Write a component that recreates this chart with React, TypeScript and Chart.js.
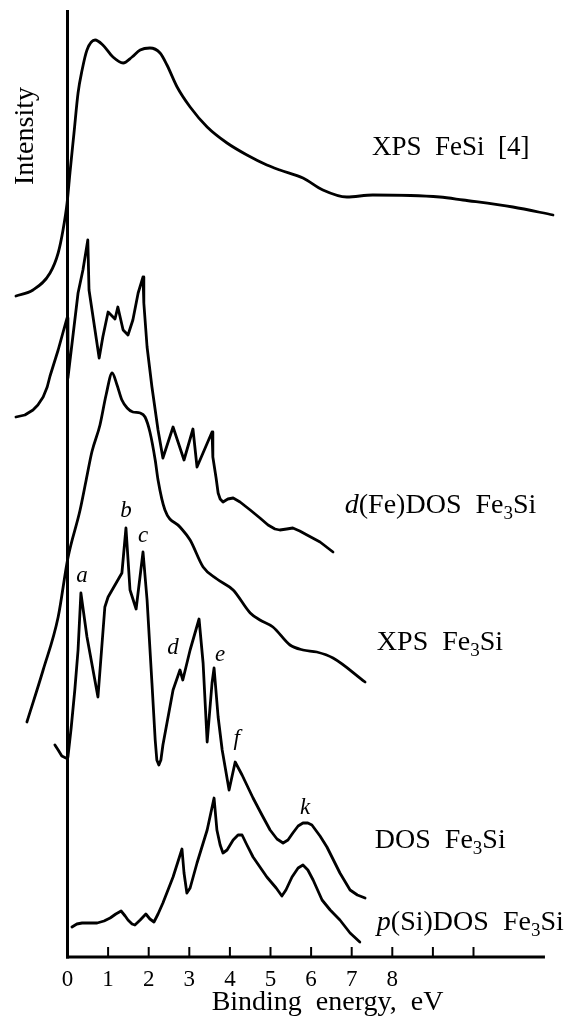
import React, { useEffect, useRef } from 'react';
import { Chart, registerables } from 'chart.js';

Chart.register(...registerables);

// ---- axis ----
const xTickValues = [0, 1, 2, 3, 4, 5, 6, 7, 8, 9, 10];
const xTickLabels = ['0', '1', '2', '3', '4', '5', '6', '7', '8', '', ''];
const xAxisTitle = 'Binding  energy,  eV';
const yAxisTitle = 'Intensity';

// ---- series (binding energy eV, stacked intensity a.u.) ----
const xpsFeSiE = [-1.27, -0.85, -0.43, -0.23, -0.11, -0.01, 0.06, 0.16, 0.26, 0.36, 0.48, 0.68, 0.87, 1.12, 1.37, 1.59, 1.79, 2.03, 2.28, 2.45, 2.7, 3.02, 3.44, 3.93, 4.42, 4.91, 5.23, 5.8, 6.29, 6.88, 7.52, 9.17, 9.74, 10.97, 11.96];
const xpsFeSiI = [66.1, 66.7, 68.4, 70.4, 72.7, 75.4, 78.4, 82.4, 86.4, 88.7, 90.7, 91.7, 91.2, 90.0, 89.4, 90.0, 90.7, 90.9, 90.4, 89.2, 87.0, 85.0, 83.0, 81.4, 80.2, 79.2, 78.7, 77.9, 76.7, 76.0, 76.2, 76.0, 75.7, 75.0, 74.2];

const dFeDosE = [-1.27, -1.05, -0.85, -0.73, -0.6, -0.5, -0.43, -0.23, -0.06, -0.01, 0.01, 0.26, 0.38, 0.5, 0.53, 0.78, 0.87, 1.0, 1.17, 1.24, 1.37, 1.49, 1.61, 1.74, 1.86, 1.88, 1.96, 2.08, 2.23, 2.35, 2.6, 2.87, 3.09, 3.19, 3.56, 3.58, 3.66, 3.71, 3.76, 3.83, 3.95, 4.08, 4.25, 4.5, 4.74, 4.94, 5.11, 5.23, 5.4, 5.55, 5.72, 5.9, 6.22, 6.54];
const dFeDosI = [54.0, 54.2, 54.7, 55.2, 56.0, 57.0, 58.1, 60.7, 63.2, 63.9, 57.9, 66.4, 68.7, 71.7, 66.7, 59.9, 62.0, 64.5, 63.8, 65.0, 62.7, 62.2, 63.7, 66.4, 68.0, 65.4, 61.0, 57.0, 52.7, 49.9, 53.0, 49.7, 52.8, 49.0, 52.5, 50.0, 47.9, 46.4, 45.8, 45.5, 45.8, 45.9, 45.5, 44.7, 43.9, 43.2, 42.8, 42.7, 42.8, 42.9, 42.6, 42.2, 41.5, 40.5];

const xpsFe3SiE = [-1.0, -0.6, -0.23, 0.01, 0.31, 0.46, 0.6, 0.8, 0.95, 1.1, 1.22, 1.34, 1.47, 1.61, 1.79, 1.91, 2.03, 2.16, 2.23, 2.4, 2.77, 3.02, 3.34, 3.68, 4.08, 4.5, 4.74, 5.06, 5.48, 5.8, 6.14, 6.54, 7.33];
const xpsFe3SiI = [23.5, 28.7, 34.0, 39.9, 44.7, 47.7, 50.5, 53.2, 56.2, 58.4, 57.2, 55.7, 54.9, 54.5, 54.4, 54.0, 52.5, 49.7, 47.7, 44.7, 43.0, 41.7, 39.0, 37.8, 36.7, 34.4, 33.7, 33.0, 31.2, 30.7, 30.5, 29.9, 27.5];

const dosFe3SiE = [-0.31, -0.23, -0.14, -0.04, 0.01, 0.09, 0.18, 0.26, 0.33, 0.48, 0.75, 0.92, 1.0, 1.17, 1.34, 1.44, 1.54, 1.69, 1.86, 1.96, 2.08, 2.16, 2.2, 2.25, 2.3, 2.35, 2.6, 2.77, 2.84, 3.02, 3.24, 3.34, 3.44, 3.56, 3.61, 3.71, 3.81, 3.98, 4.13, 4.3, 4.57, 4.79, 4.99, 5.16, 5.31, 5.43, 5.55, 5.68, 5.8, 5.92, 6.02, 6.22, 6.39, 6.71, 6.96, 7.14, 7.33];
const dosFe3SiI = [21.2, 20.7, 20.1, 19.9, 20.0, 22.9, 26.7, 30.7, 36.4, 32.0, 26.0, 35.0, 36.0, 37.2, 38.4, 42.9, 36.7, 34.8, 40.5, 35.7, 27.4, 21.7, 19.7, 19.2, 19.7, 21.2, 26.7, 28.7, 27.7, 30.7, 33.8, 29.4, 21.5, 27.4, 28.9, 24.0, 20.7, 16.7, 19.5, 18.2, 15.9, 14.2, 12.7, 11.8, 11.4, 11.7, 12.4, 13.1, 13.4, 13.4, 13.2, 12.1, 11.0, 8.4, 6.7, 6.2, 5.9];

const pSiDosE = [0.11, 0.23, 0.36, 0.73, 0.9, 1.05, 1.19, 1.32, 1.42, 1.49, 1.59, 1.66, 1.79, 1.93, 2.03, 2.13, 2.23, 2.35, 2.6, 2.82, 2.87, 2.94, 3.02, 3.19, 3.44, 3.61, 3.68, 3.76, 3.83, 3.93, 4.08, 4.2, 4.3, 4.42, 4.57, 4.91, 5.14, 5.28, 5.38, 5.53, 5.68, 5.8, 5.92, 6.05, 6.27, 6.47, 6.71, 6.96, 7.2];
const pSiDosI = [3.0, 3.3, 3.4, 3.4, 3.6, 3.9, 4.3, 4.6, 4.1, 3.7, 3.3, 3.2, 3.7, 4.3, 3.8, 3.5, 4.3, 5.4, 8.0, 10.8, 8.4, 6.4, 6.9, 9.4, 12.7, 15.9, 12.7, 11.2, 10.4, 10.7, 11.7, 12.2, 12.2, 11.2, 10.0, 8.0, 6.9, 6.1, 6.7, 8.0, 8.9, 9.2, 8.7, 7.7, 5.7, 4.7, 3.7, 2.4, 1.5];

// ---- annotations ----
const peakLetters = ['a', 'b', 'c', 'd', 'e', 'f', 'k'];
const peakLetterE = [0.36, 1.44, 1.86, 2.6, 3.76, 4.17, 5.85];
const peakLetterI = [37.5, 44.0, 41.5, 30.3, 29.6, 21.2, 14.3];

type Seg = { t: string; it?: boolean; sub?: boolean };
const seriesLabels: Seg[][] = [
  [{ t: 'XPS  FeSi  [4]' }],
  [{ t: 'd', it: true }, { t: '(Fe)DOS  Fe' }, { t: '3', sub: true }, { t: 'Si' }],
  [{ t: 'XPS  Fe' }, { t: '3', sub: true }, { t: 'Si' }],
  [{ t: 'DOS  Fe' }, { t: '3', sub: true }, { t: 'Si' }],
  [{ t: 'p', it: true }, { t: '(Si)DOS  Fe' }, { t: '3', sub: true }, { t: 'Si' }],
];
const seriesLabelE = [7.5, 6.83, 7.62, 7.57, 7.62];
const seriesLabelI = [80.2, 44.4, 30.7, 10.9, 2.7];
const seriesLabelSize = [27, 28, 28, 28, 28];

const X_MIN = -1.4;
const X_MAX = 12;
const Y_MAX = 95;
const AXIS_TOP = 94.7;
const AXIS_END = 11.76;

const FONT = '"Liberation Serif", "Times New Roman", serif';

function pts(e: number[], v: number[]) {
  return e.map((x, i) => ({ x, y: v[i] }));
}

function drawRich(ctx: CanvasRenderingContext2D, x: number, y: number, segs: Seg[], size: number) {
  let cx = x;
  ctx.textAlign = 'left';
  ctx.textBaseline = 'alphabetic';
  for (const s of segs) {
    const fs = s.sub ? Math.round(size * 0.68) : size;
    ctx.font = `${s.it ? 'italic ' : ''}${fs}px ${FONT}`;
    const dy = s.sub ? size * 0.2 : 0;
    ctx.fillText(s.t, cx, y + dy);
    cx += ctx.measureText(s.t).width;
  }
}

const decorPlugin = {
  id: 'decor',
  afterDatasetsDraw(chart: any) {
    const { ctx, scales } = chart;
    const xs = scales.x;
    const ys = scales.y;
    ctx.save();
    ctx.strokeStyle = '#000';
    ctx.fillStyle = '#000';
    const x0 = xs.getPixelForValue(0);
    const yb = ys.getPixelForValue(0);
    ctx.lineWidth = 3;
    ctx.beginPath();
    ctx.moveTo(x0, yb + 1.5);
    ctx.lineTo(x0, ys.getPixelForValue(AXIS_TOP));
    ctx.stroke();
    ctx.beginPath();
    ctx.moveTo(x0 - 1.5, yb);
    ctx.lineTo(xs.getPixelForValue(AXIS_END), yb);
    ctx.stroke();
    ctx.lineWidth = 2;
    for (const v of xTickValues) {
      if (v === 0) continue;
      const px = xs.getPixelForValue(v);
      ctx.beginPath();
      ctx.moveTo(px, yb);
      ctx.lineTo(px, yb - 10);
      ctx.stroke();
    }
    // axis titles
    ctx.font = `28px ${FONT}`;
    ctx.textAlign = 'center';
    ctx.textBaseline = 'alphabetic';
    ctx.fillText(xAxisTitle, 327.5, 1010);
    ctx.save();
    ctx.translate(33, 136);
    ctx.rotate(-Math.PI / 2);
    ctx.fillText(yAxisTitle, 0, 0);
    ctx.restore();
    // peak letters
    ctx.font = `italic 23px ${FONT}`;
    ctx.textAlign = 'center';
    peakLetters.forEach((l, i) => {
      ctx.fillText(l, xs.getPixelForValue(peakLetterE[i]), ys.getPixelForValue(peakLetterI[i]));
    });
    // series labels
    seriesLabels.forEach((segs, i) => {
      drawRich(ctx, xs.getPixelForValue(seriesLabelE[i]), ys.getPixelForValue(seriesLabelI[i]), segs, seriesLabelSize[i]);
    });
    ctx.restore();
  },
};

export default function App() {
  const ref = useRef<HTMLCanvasElement | null>(null);
  useEffect(() => {
    if (!ref.current) return;
    const base = {
      borderColor: '#000',
      borderWidth: 2.8,
      pointRadius: 0,
      fill: false,
      borderJoinStyle: 'round' as const,
      borderCapStyle: 'round' as const,
    };
    const smooth = { ...base, cubicInterpolationMode: 'monotone' as const };
    const sharp = { ...base, tension: 0 };
    const chart = new Chart(ref.current, {
      type: 'line',
      data: {
        datasets: [
          { ...smooth, label: 'XPS FeSi [4]', data: pts(xpsFeSiE, xpsFeSiI) },
          { ...sharp, label: 'd(Fe)DOS Fe3Si', data: pts(dFeDosE, dFeDosI) },
          { ...smooth, label: 'XPS Fe3Si', data: pts(xpsFe3SiE, xpsFe3SiI) },
          { ...sharp, label: 'DOS Fe3Si', data: pts(dosFe3SiE, dosFe3SiI) },
          { ...sharp, label: 'p(Si)DOS Fe3Si', data: pts(pSiDosE, pSiDosI) },
        ],
      },
      options: {
        animation: false,
        responsive: false,
        maintainAspectRatio: false,
        layout: { padding: { left: 10.66, right: 15.3, top: 7, bottom: 0 } },
        plugins: { legend: { display: false }, tooltip: { enabled: false }, title: { display: false } },
        scales: {
          x: {
            type: 'linear',
            min: X_MIN,
            max: X_MAX,
            grid: { display: false },
            border: { display: false },
            afterBuildTicks: (scale: any) => {
              scale.ticks = xTickValues.map((v) => ({ value: v }));
            },
            afterFit: (scale: any) => {
              scale.height = 65;
            },
            ticks: {
              autoSkip: false,
              maxRotation: 0,
              padding: 1,
              color: '#000',
              font: { family: FONT, size: 23 },
              callback: (_v: any, i: number) => xTickLabels[i],
            },
          },
          y: {
            type: 'linear',
            display: false,
            min: 0,
            max: Y_MAX,
          },
        },
      },
      plugins: [decorPlugin],
    });
    return () => chart.destroy();
  }, []);
  return (
    <div style={{ position: 'absolute', left: 0, top: 0, width: 570, height: 1022, background: '#fff' }}>
      <canvas ref={ref} width={570} height={1022} style={{ display: 'block' }} />
    </div>
  );
}
